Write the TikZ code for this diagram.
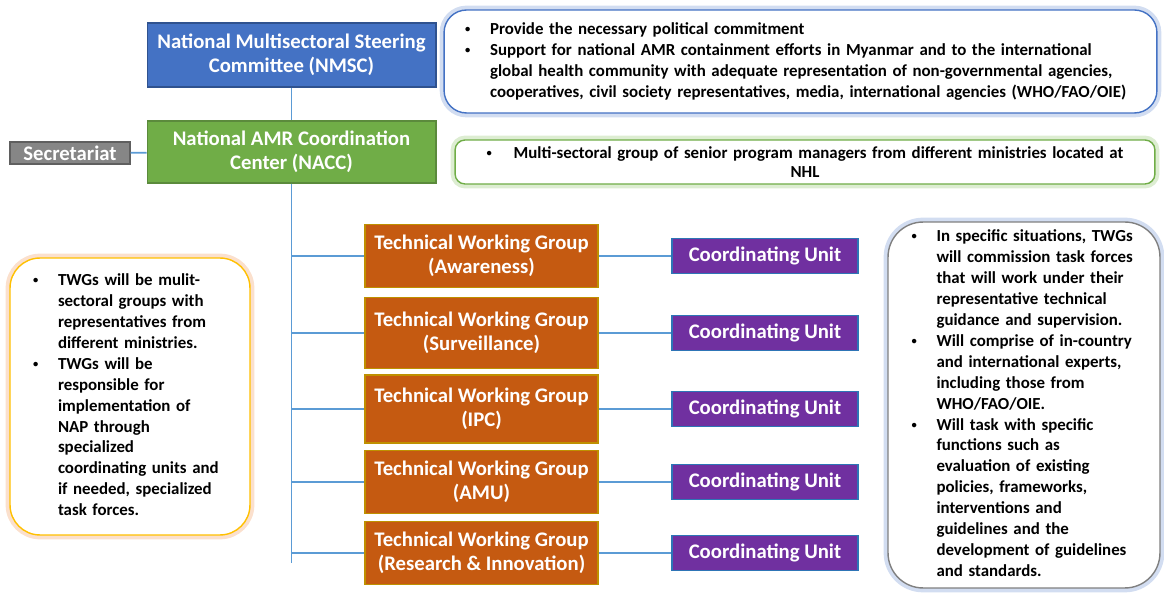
\documentclass[tikz,border=0pt]{standalone}
\usepackage{fontspec}
\setmainfont{Carlito}
\usepackage{xcolor}

\definecolor{nmscblue}{HTML}{4472C4}
\definecolor{nmscedge}{HTML}{2F528F}
\definecolor{naccgreen}{HTML}{70AD47}
\definecolor{naccedge}{HTML}{5B8A3C}
\definecolor{secgray}{HTML}{868686}
\definecolor{secedge}{HTML}{5F5F5F}
\definecolor{twgorange}{HTML}{C55A11}
\definecolor{twgedge}{HTML}{BF9000}
\definecolor{cupurple}{HTML}{7030A0}
\definecolor{cuedge}{HTML}{2E75B6}
\definecolor{linkblue}{HTML}{5B9BD5}
\definecolor{noteorange}{HTML}{FFC000}
\definecolor{glowblue}{HTML}{8FAADC}
\definecolor{glowgreen}{HTML}{A9D18E}
\definecolor{gloworange}{HTML}{F4B183}

% small bullet, and the bullet column of a note
\newcommand\notedot{\raisebox{0.25ex}{\fontsize{6}{6}\selectfont\textbullet}}
\newcommand\bul{\makebox[0.5cm][l]{\notedot}}

\tikzset{
  unit/.style={draw=#1, line width=0.6pt, text=white, align=center, inner sep=1pt,
    font=\fontsize{11.8}{13.6}\selectfont\bfseries},
  twg/.style={unit=twgedge, fill=twgorange, minimum width=4.66cm},
  cu/.style={unit=cuedge, fill=cupurple, minimum width=3.72cm, minimum height=0.7cm},
  note/.style={draw=#1, fill=white, line width=0.8pt, rounded corners=0.45cm,
    align=left, inner ysep=0pt, font=\fontsize{9.6}{11.9}\selectfont\bfseries},
  glow/.style={preaction={draw=#1, line width=5pt, opacity=0.4}},
  link/.style={draw=linkblue, line width=1pt},
}

\begin{document}
\begin{tikzpicture}[x=0.02cm, y=-0.02cm]
    \useasboundingbox (0,0) rectangle (1164,594);

    % Steering committee and coordination center
    \node[unit=nmscedge, fill=nmscblue, minimum width=5.78cm, minimum height=1.28cm] (nmsc) at (291.5,55)
        {National Multisectoral Steering\\Committee (NMSC)};
    \node[unit=naccedge, fill=naccgreen, minimum width=5.78cm, minimum height=1.24cm] (nacc) at (291.5,152)
        {National AMR Coordination\\Center (NACC)};
    \node[unit=secedge, fill=secgray, minimum width=2.4cm, minimum height=0.44cm] (sec) at (70,153) {Secretariat};
    \coordinate (trunkend) at (291.5,563);

    % Technical working groups
    \node[twg, minimum height=1.26cm] (twgA) at (481.5,256) {Technical Working Group\\(Awareness)};
    \node[twg, minimum height=1.42cm] (twgS) at (481.5,333) {Technical Working Group\\(Surveillance)};
    \node[twg, minimum height=1.36cm] (twgI) at (481.5,409) {Technical Working Group\\(IPC)};
    \node[twg, minimum height=1.26cm] (twgU) at (481.5,482) {Technical Working Group\\(AMU)};
    \node[twg, minimum height=1.26cm] (twgR) at (481.5,553) {Technical Working Group\\(Research \& Innovation)};

    % Coordinating units
    \node[cu] (cuA) at (765,256) {Coordinating Unit};
    \node[cu] (cuS) at (765,333) {Coordinating Unit};
    \node[cu] (cuI) at (765,409) {Coordinating Unit};
    \node[cu] (cuU) at (765,482) {Coordinating Unit};
    \node[cu] (cuR) at (765,553) {Coordinating Unit};

    % Connectors
    \draw[link] (nmsc) -- (nacc);
    \draw[link] (sec) -- (nacc);
    \draw[link] (nacc) -- (trunkend);
    \foreach \g in {A,S,I,U,R} {
        \draw[link] (twg\g.west -| nacc) -- (twg\g);
        \draw[link] (twg\g) -- (cu\g);
    }

    % Notes
    \node[note=nmscblue, glow=glowblue, text width=13.42cm, inner xsep=0.42cm, minimum height=2.06cm] (noteN) at (800.5,61.5) {%
        \begin{tabular}{@{}l@{}l@{}}
        \bul & Provide the necessary political commitment\\
        \bul & Support for national AMR containment efforts in Myanmar and to the international\\
             & global health community with adequate representation of non-governmental agencies,\\
             & cooperatives, civil society representatives, media, international agencies (WHO/FAO/OIE)
        \end{tabular}};
    \node[note=naccgreen, glow=glowgreen, rounded corners=0.2cm, align=center, text width=13.6cm,
        inner xsep=0.2cm, minimum height=0.88cm, font=\fontsize{9.6}{11}\selectfont\bfseries] (noteC) at (805,162)
        {\notedot\hspace{1.3em}Multi-sectoral group of senior program managers from different ministries located at\\NHL};
    \node[note=noteorange, glow=gloworange, rounded corners=0.6cm, text width=3.88cm, inner xsep=0.46cm,
        minimum height=5.54cm] (noteT) at (130,396.5) {%
        \begin{tabular}{@{}l@{}l@{}}
        \bul & TWGs will be mulit-\\
             & sectoral groups with\\
             & representatives from\\
             & different ministries.\\
        \bul & TWGs will be\\
             & responsible for\\
             & implementation of\\
             & NAP through\\
             & specialized\\
             & coordinating units and\\
             & if needed, specialized\\
             & task forces.
        \end{tabular}};
    \node[note=gray, glow=glowblue, rounded corners=0.7cm, text width=4.5cm, inner xsep=0.47cm,
        minimum height=7.32cm] (noteF) at (1024,405) {%
        \begin{tabular}{@{}l@{}l@{}}
        \bul & In specific situations, TWGs\\
             & will commission task forces\\
             & that will work under their\\
             & representative technical\\
             & guidance and supervision.\\
        \bul & Will comprise of in-country\\
             & and international experts,\\
             & including those from\\
             & WHO/FAO/OIE.\\
        \bul & Will task with specific\\
             & functions such as\\
             & evaluation of existing\\
             & policies, frameworks,\\
             & interventions and\\
             & guidelines and the\\
             & development of guidelines\\
             & and standards.
        \end{tabular}};

\end{tikzpicture}
\end{document}
